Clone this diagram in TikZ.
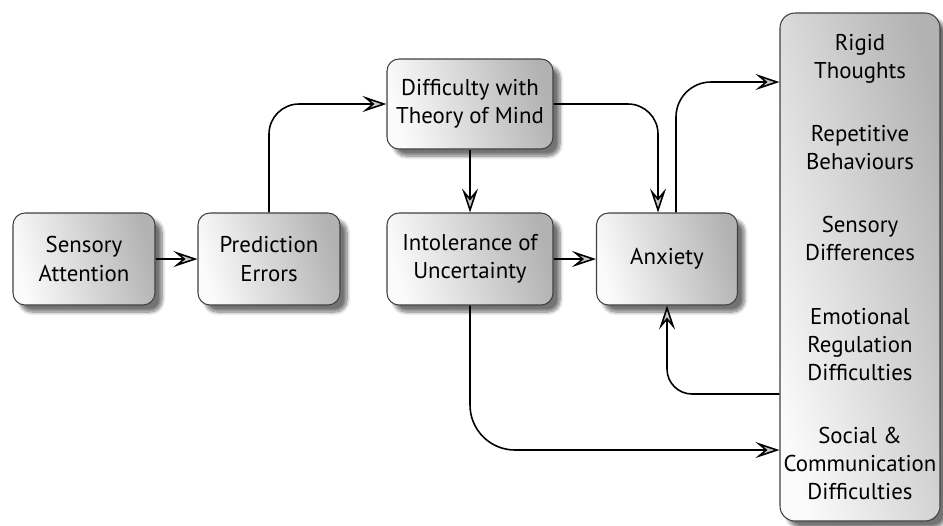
\documentclass[tikz,border=0pt]{standalone}
\usepackage{fontspec}
\setmainfont{PT Sans}
\usetikzlibrary{arrows.meta, shadows.blur}

\tikzset{
  stagebox/.style={draw=black!75, line width=0.6pt, rounded corners=2.4mm,
    left color=gray!3, right color=gray!60, shading angle=105,
    blur shadow={shadow xshift=1.4mm, shadow yshift=-1.4mm, shadow blur steps=8, shadow opacity=55},
    align=center, inner sep=0pt, font=\fontsize{13}{16}\selectfont},
  flow/.style={line width=0.9pt,
    -{Stealth[length=4.8mm, width=3.2mm, inset=1.9mm, fill=gray!45]}}
}

\begin{document}
\begin{tikzpicture}
        \useasboundingbox (0,0) rectangle (18.86,-10.5);

        % Sensory Attention
        \node[stagebox, minimum width=2.84cm, minimum height=1.84cm] (sens) at (1.68,-5.18) {Sensory\\Attention};

        % Prediction Errors
        \node[stagebox, minimum width=2.84cm, minimum height=1.84cm] (pred) at (5.38,-5.18) {Prediction\\Errors};

        % Theory of Mind
        \node[stagebox, minimum width=3.32cm, minimum height=1.8cm] (tom) at (9.40,-2.08) {Difficulty with\\Theory of Mind};

        % Intolerance of Uncertainty
        \node[stagebox, minimum width=3.32cm, minimum height=1.84cm] (intol) at (9.40,-5.18) {Intolerance of\\Uncertainty};

        % Anxiety
        \node[stagebox, minimum width=2.82cm, minimum height=1.84cm] (anx) at (13.34,-5.18) {Anxiety};

        % Outcomes
        \node[stagebox, rounded corners=3mm, minimum width=3.2cm, minimum height=10.16cm] (outc) at (17.2,-5.34)
          {Rigid\\Thoughts\\[20pt]Repetitive\\Behaviours\\[20pt]Sensory\\Differences\\[20pt]Emotional\\Regulation\\Difficulties\\[20pt]Social \&\\Communication\\Difficulties};
        \coordinate (toRigid) at (outc.west |- 0,-1.64);
        \coordinate (fromEmo) at (outc.west |- 0,-7.88);
        \coordinate (toSocial) at (outc.west |- 0,-9.0);

        % Arrows
        \draw[flow] (sens) -- (pred);
        \draw[flow, rounded corners=6mm] (pred.north) |- (tom.west);
        \draw[flow] (tom) -- (intol);
        \draw[flow] (intol) -- (anx);
        \draw[flow, rounded corners=6mm] (tom.east) -| ([xshift=-1.8mm]anx.north);
        \draw[flow, rounded corners=7mm] ([xshift=1.8mm]anx.north) |- (toRigid);
        \draw[flow, rounded corners=5mm] (fromEmo) -| (anx.south);
        \draw[flow, rounded corners=9mm] (intol.south) |- (toSocial);
\end{tikzpicture}
\end{document}
